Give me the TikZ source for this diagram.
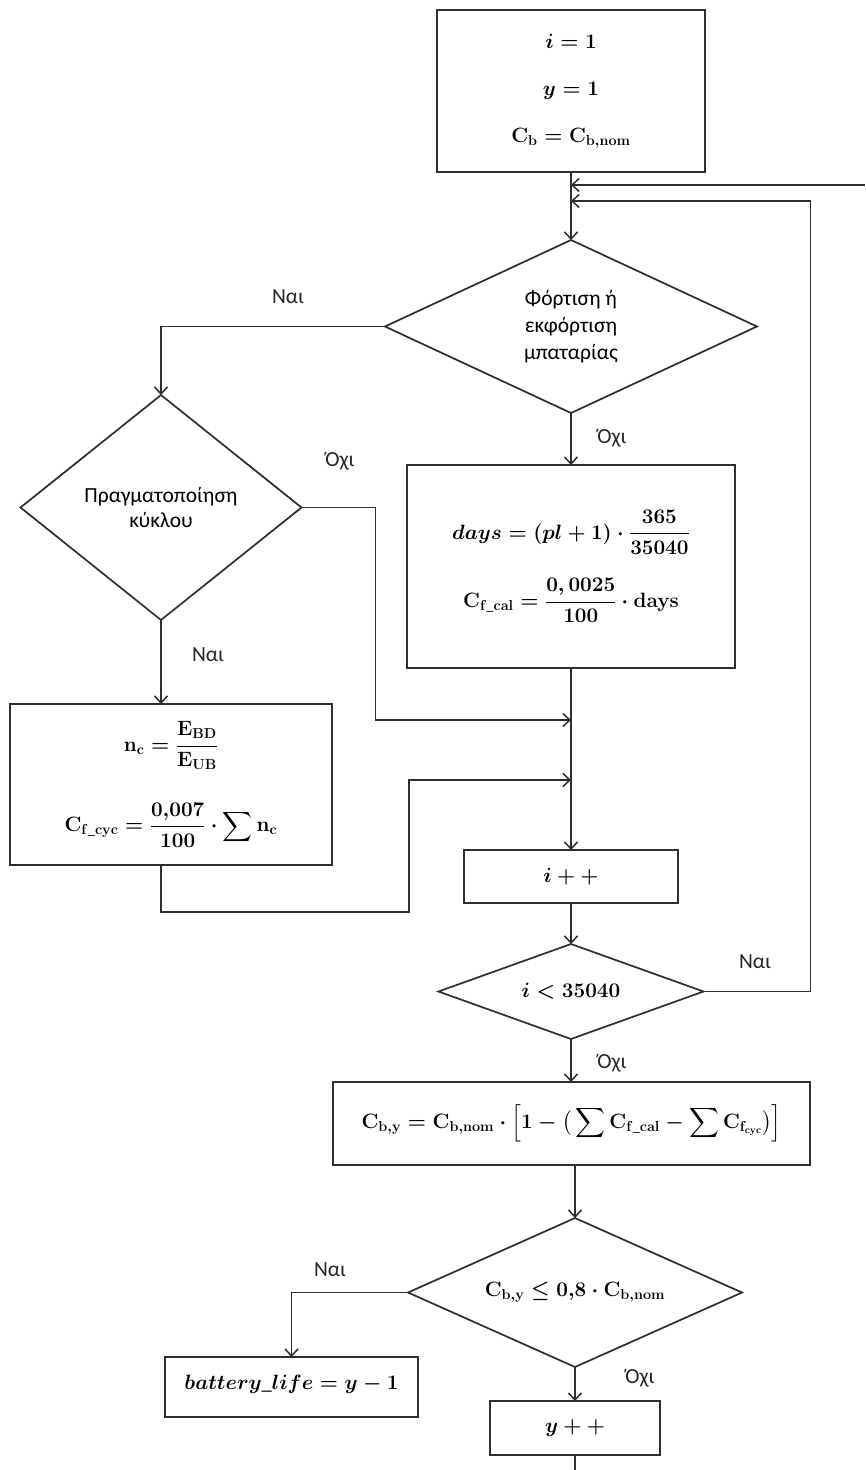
\documentclass[tikz,border=0pt]{standalone}
\usepackage{amsmath}
\usepackage{fontspec}
\setmainfont{Carlito}
\usetikzlibrary{shapes.geometric,arrows.meta,calc}
\newcommand{\mfont}{\fontsize{20.5}{24}\selectfont\boldmath}
\newcommand{\tfont}{\fontsize{21.5}{27}\selectfont}
\begin{document}
\begin{tikzpicture}[x=1pt,y=-1pt,
  every node/.style={inner sep=0pt,outer sep=0pt},
  frame/.style={draw=black!82,line width=2pt,rectangle,align=center,font=\mfont},
  decision/.style={draw=black!82,line width=1.7pt,diamond,align=center,font=\tfont},
  lbl/.style={font=\tfont,text=black!85},
  arr/.style={draw=black!82,line width=1.5pt,-{Straight Barb[length=7pt,width=13pt]}},
  plain/.style={draw=black!82,line width=1.5pt}]
\fill[white] (0,0) rectangle (865,1470);
\useasboundingbox (0,0) rectangle (865,1470);

% process boxes and decisions
\node[frame,minimum width=268pt,minimum height=162pt] (init) at (571,91)
  {\raisebox{5pt}{\begin{tabular}{c}$i=1$\\[23pt]$y=1$\\[23pt]$\mathbf{C_b}=\mathbf{C_{b,nom}}$\end{tabular}}};
\node[decision,aspect=2.15,minimum width=372pt,minimum height=173pt] (d1) at (571,326.5)
  {Φόρτιση ή\\εκφόρτιση\\μπαταρίας};
\node[decision,aspect=1.25,minimum width=281pt,minimum height=225pt,font=\fontsize{21.5}{25}\selectfont] (d2) at (161,507.5)
  {Πραγματοποίηση\\κύκλου};
\node[frame,minimum width=328pt,minimum height=203pt] (calc) at (571,566.5)
  {\raisebox{7pt}{\begin{tabular}{c}$days=(pl+1)\cdot\dfrac{365}{35040}$\\[32pt]
   $\mathbf{C}_{\mathbf{f\_cal}}=\dfrac{0,0025}{100}\cdot\mathbf{days}$\end{tabular}}};
\node[frame,minimum width=322pt,minimum height=161pt] (nc) at (171,784.5)
  {$\mathbf{n_c}=\dfrac{\mathbf{E_{BD}}}{\mathbf{E_{UB}}}$\\[32pt]
   $\mathbf{C}_{\mathbf{f\_cyc}}=\dfrac{0{,}007}{100}\cdot\displaystyle\sum\mathbf{n_c}$};
\node[frame,minimum width=214pt,minimum height=53pt] (inc) at (571,876.5) {$i++$};
\node[decision,aspect=2.8,minimum width=265pt,minimum height=95pt,font=\mfont] (d3) at (571,991.5)
  {$i<35040$};
\node[frame,minimum width=477pt,minimum height=83pt] (cby) at (571.5,1123.5)
  {$\mathbf{C_{b,y}}=\mathbf{C}_{\mathbf{b,nom}}\cdot\Big[1-\big(\displaystyle\sum\mathbf{C}_{\mathbf{f\_cal}}-\sum\mathbf{C}_{\mathbf{f_{cyc}}}\big)\Big]$};
\node[decision,aspect=2.24,minimum width=334pt,minimum height=149pt,font=\mfont] (d4) at (575,1292.5)
  {\raisebox{-4pt}{$\mathbf{C_{b,y}}\leq 0{,}8\cdot\mathbf{C}_{\mathbf{b,nom}}$}};
\node[frame,minimum width=253pt,minimum height=60pt] (batt) at (291.5,1387)
  {\raisebox{9pt}{$battery\_life=y-1$}};
\node[frame,minimum width=170pt,minimum height=54pt] (yinc) at (575,1428) {$y++$};

% branch labels
\node[lbl] (n1) at (288,297) {Ναι};
\node[lbl] (o1) at (612,438) {Όχι};
\node[lbl] (o2) at (340,461) {Όχι};
\node[lbl] (n2) at (208,655) {Ναι};
\node[lbl] (n3) at (755,962) {Ναι};
\node[lbl] (o3) at (612,1063) {Όχι};
\node[lbl] (n4) at (330,1270) {Ναι};
\node[lbl] (o4) at (640,1378) {Όχι};

% junction points on the main vertical line
\coordinate (jA) at (571,185);
\coordinate (jB) at (571,201);
\coordinate (jC) at (571,720);
\coordinate (jD) at (571,780);
\coordinate (edge) at (865,185);
\coordinate (yend) at (575,1470);

% connectors
\draw[arr] (init.south) -- (d1.north);
\draw[arr] (edge) -- (jA);
\draw[arr] (d3.east) -- ++(107,0) |- (jB);
\draw[arr] (d1.west) -| (d2.north);
\draw[arr] (d1.south) -- (calc.north);
\draw[arr] (d2.east) -- ++(74,0) |- (jC);
\draw[arr] (d2.south) -- (d2.south |- nc.north);
\draw[arr] (d2.south |- nc.south) -- ++(0,47) -- ++(248,0) |- (jD);
\draw[arr] (calc.south) -- (inc.north);
\draw[arr] (inc.south) -- (d3.north);
\draw[arr] (d3.south) -- (d3.south |- cby.north);
\draw[arr] (cby.south -| d4.north) -- (d4.north);
\draw[arr] (d4.west) -| (batt.north);
\draw[arr] (d4.south) -- (yinc.north);
\draw[plain] (yinc.south) -- (yend);
\end{tikzpicture}
\end{document}
